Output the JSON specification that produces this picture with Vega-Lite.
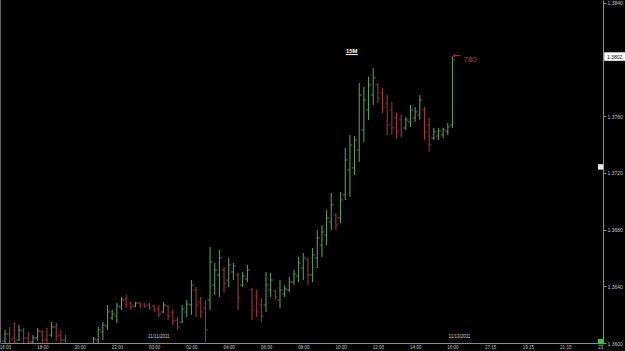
{
  "$schema": "https://vega.github.io/schema/vega-lite/v6.json",
  "width": 603,
  "height": 343,
  "autosize": {"type": "none"},
  "padding": {"left": 0, "top": 0, "right": 22, "bottom": 8},
  "background": "#000000",
  "config": {
    "view": {"stroke": null},
    "font": "Liberation Sans",
    "axis": {"grid": false, "labelFont": "Liberation Sans", "labelColor": "#c8c8c8", "domainColor": "#8c8c8c", "tickColor": "#8c8c8c", "labelOverlap": false, "labelFlush": false, "labelBound": false}
  },
  "data": {"values": [
    {"i":0,"o":1.36014,"h":1.36092,"l":1.35979,"c":1.36063},
    {"i":1,"o":1.36063,"h":1.36113,"l":1.35979,"c":1.36021},
    {"i":2,"o":1.36035,"h":1.36148,"l":1.35979,"c":1.36007},
    {"i":3,"o":1.36021,"h":1.36127,"l":1.36014,"c":1.36092},
    {"i":4,"o":1.36085,"h":1.36106,"l":1.35993,"c":1.36035},
    {"i":5,"o":1.36035,"h":1.36078,"l":1.35986,"c":1.36007},
    {"i":6,"o":1.36007,"h":1.36056,"l":1.35986,"c":1.36035},
    {"i":7,"o":1.36035,"h":1.36106,"l":1.36014,"c":1.36085},
    {"i":8,"o":1.36078,"h":1.36092,"l":1.35979,"c":1.36021},
    {"i":9,"o":1.36021,"h":1.36106,"l":1.35972,"c":1.35993},
    {"i":10,"o":1.36056,"h":1.36148,"l":1.36042,"c":1.36113},
    {"i":11,"o":1.36113,"h":1.36141,"l":1.36014,"c":1.36049},
    {"i":12,"o":1.36056,"h":1.36092,"l":1.36000,"c":1.36021},
    {"i":13,"o":1.36021,"h":1.36056,"l":1.35979,"c":1.35993},
    {"i":14,"o":1.35986,"h":1.35993,"l":1.35937,"c":1.35951},
    {"i":15,"o":1.35944,"h":1.35979,"l":1.35915,"c":1.35965},
    {"i":16,"o":1.35965,"h":1.35986,"l":1.35908,"c":1.35929},
    {"i":17,"o":1.35929,"h":1.35972,"l":1.35901,"c":1.35958},
    {"i":18,"o":1.35958,"h":1.35993,"l":1.35937,"c":1.35979},
    {"i":19,"o":1.35979,"h":1.36042,"l":1.35965,"c":1.36028},
    {"i":20,"o":1.36021,"h":1.36113,"l":1.35993,"c":1.36092},
    {"i":21,"o":1.36078,"h":1.36148,"l":1.36021,"c":1.36127},
    {"i":22,"o":1.36120,"h":1.36268,"l":1.36092,"c":1.36219},
    {"i":23,"o":1.36176,"h":1.36233,"l":1.36162,"c":1.36205},
    {"i":24,"o":1.36190,"h":1.36282,"l":1.36141,"c":1.36261},
    {"i":25,"o":1.36254,"h":1.36325,"l":1.36233,"c":1.36303},
    {"i":26,"o":1.36310,"h":1.36339,"l":1.36247,"c":1.36268},
    {"i":27,"o":1.36282,"h":1.36289,"l":1.36233,"c":1.36254},
    {"i":28,"o":1.36261,"h":1.36289,"l":1.36254,"c":1.36282},
    {"i":29,"o":1.36282,"h":1.36289,"l":1.36247,"c":1.36261},
    {"i":30,"o":1.36275,"h":1.36282,"l":1.36247,"c":1.36261},
    {"i":31,"o":1.36268,"h":1.36282,"l":1.36233,"c":1.36247},
    {"i":32,"o":1.36261,"h":1.36268,"l":1.36219,"c":1.36233},
    {"i":33,"o":1.36247,"h":1.36268,"l":1.36183,"c":1.36205},
    {"i":34,"o":1.36219,"h":1.36289,"l":1.36212,"c":1.36268},
    {"i":35,"o":1.36261,"h":1.36268,"l":1.36162,"c":1.36190},
    {"i":36,"o":1.36212,"h":1.36233,"l":1.36127,"c":1.36155},
    {"i":37,"o":1.36162,"h":1.36183,"l":1.36092,"c":1.36113},
    {"i":38,"o":1.36148,"h":1.36268,"l":1.36141,"c":1.36240},
    {"i":39,"o":1.36219,"h":1.36303,"l":1.36183,"c":1.36275},
    {"i":40,"o":1.36268,"h":1.36444,"l":1.36198,"c":1.36409},
    {"i":41,"o":1.36374,"h":1.36395,"l":1.36183,"c":1.36268},
    {"i":42,"o":1.36289,"h":1.36325,"l":1.36176,"c":1.36219},
    {"i":43,"o":1.36247,"h":1.36303,"l":1.36007,"c":1.36092},
    {"i":44,"o":1.36303,"h":1.36677,"l":1.36233,"c":1.36571},
    {"i":45,"o":1.36409,"h":1.36564,"l":1.36339,"c":1.36515},
    {"i":46,"o":1.36480,"h":1.36656,"l":1.36325,"c":1.36600},
    {"i":47,"o":1.36515,"h":1.36536,"l":1.36353,"c":1.36423},
    {"i":48,"o":1.36444,"h":1.36600,"l":1.36395,"c":1.36550},
    {"i":49,"o":1.36501,"h":1.36564,"l":1.36444,"c":1.36543},
    {"i":50,"o":1.36480,"h":1.36494,"l":1.36233,"c":1.36317},
    {"i":51,"o":1.36409,"h":1.36501,"l":1.36395,"c":1.36473},
    {"i":52,"o":1.36452,"h":1.36550,"l":1.36430,"c":1.36515},
    {"i":53,"o":1.36374,"h":1.36388,"l":1.36162,"c":1.36233},
    {"i":54,"o":1.36332,"h":1.36374,"l":1.36183,"c":1.36219},
    {"i":55,"o":1.36268,"h":1.36317,"l":1.36148,"c":1.36190},
    {"i":56,"o":1.36268,"h":1.36501,"l":1.36219,"c":1.36409},
    {"i":57,"o":1.36374,"h":1.36494,"l":1.36325,"c":1.36444},
    {"i":58,"o":1.36367,"h":1.36374,"l":1.36303,"c":1.36325},
    {"i":59,"o":1.36303,"h":1.36444,"l":1.36247,"c":1.36374},
    {"i":60,"o":1.36346,"h":1.36409,"l":1.36325,"c":1.36381},
    {"i":61,"o":1.36374,"h":1.36466,"l":1.36360,"c":1.36430},
    {"i":62,"o":1.36430,"h":1.36515,"l":1.36409,"c":1.36487},
    {"i":63,"o":1.36473,"h":1.36607,"l":1.36430,"c":1.36564},
    {"i":64,"o":1.36529,"h":1.36635,"l":1.36444,"c":1.36600},
    {"i":65,"o":1.36586,"h":1.36600,"l":1.36409,"c":1.36480},
    {"i":66,"o":1.36480,"h":1.36670,"l":1.36430,"c":1.36621},
    {"i":67,"o":1.36600,"h":1.36797,"l":1.36529,"c":1.36741},
    {"i":68,"o":1.36691,"h":1.36832,"l":1.36607,"c":1.36783},
    {"i":69,"o":1.36762,"h":1.36938,"l":1.36691,"c":1.36882},
    {"i":70,"o":1.36854,"h":1.37058,"l":1.36797,"c":1.36974},
    {"i":71,"o":1.36903,"h":1.36917,"l":1.36797,"c":1.36832},
    {"i":72,"o":1.36882,"h":1.37065,"l":1.36847,"c":1.37009},
    {"i":73,"o":1.37044,"h":1.37376,"l":1.37009,"c":1.37291},
    {"i":74,"o":1.37220,"h":1.37467,"l":1.37030,"c":1.37397},
    {"i":75,"o":1.37235,"h":1.37460,"l":1.37185,"c":1.37432},
    {"i":76,"o":1.37362,"h":1.37834,"l":1.37277,"c":1.37749},
    {"i":77,"o":1.37503,"h":1.37806,"l":1.37418,"c":1.37714},
    {"i":78,"o":1.37644,"h":1.37877,"l":1.37573,"c":1.37820},
    {"i":79,"o":1.37749,"h":1.37940,"l":1.37679,"c":1.37870},
    {"i":80,"o":1.37820,"h":1.37834,"l":1.37693,"c":1.37728},
    {"i":81,"o":1.37763,"h":1.37799,"l":1.37623,"c":1.37658},
    {"i":82,"o":1.37693,"h":1.37749,"l":1.37467,"c":1.37538},
    {"i":83,"o":1.37644,"h":1.37700,"l":1.37467,"c":1.37517},
    {"i":84,"o":1.37587,"h":1.37623,"l":1.37446,"c":1.37489},
    {"i":85,"o":1.37573,"h":1.37609,"l":1.37453,"c":1.37482},
    {"i":86,"o":1.37517,"h":1.37594,"l":1.37503,"c":1.37573},
    {"i":87,"o":1.37559,"h":1.37679,"l":1.37524,"c":1.37644},
    {"i":88,"o":1.37587,"h":1.37665,"l":1.37559,"c":1.37630},
    {"i":89,"o":1.37609,"h":1.37749,"l":1.37573,"c":1.37714},
    {"i":90,"o":1.37644,"h":1.37665,"l":1.37432,"c":1.37489},
    {"i":91,"o":1.37538,"h":1.37587,"l":1.37348,"c":1.37397},
    {"i":92,"o":1.37446,"h":1.37517,"l":1.37432,"c":1.37489},
    {"i":93,"o":1.37460,"h":1.37517,"l":1.37432,"c":1.37496},
    {"i":94,"o":1.37467,"h":1.37517,"l":1.37446,"c":1.37503},
    {"i":95,"o":1.37489,"h":1.37552,"l":1.37467,"c":1.37524},
    {"i":96,"o":1.37538,"h":1.38020,"l":1.37517,"c":1.37997}
  ]},
  "layer": [
    {
      "mark": {"type": "rule", "strokeWidth": 1, "clip": true},
      "encoding": {
        "x": {"field": "i", "type": "quantitative", "scale": {"domain": [-1.07, 128.3], "nice": false, "zero": false},
              "axis": {"orient": "bottom", "title": null, "values": [0,8,16,24,32,40,48,56,64,72,80,88,96,104.1,112.2,120.2,127.7], "tickCount": 40,
                       "labelExpr": "datum.value <= 96 ? ((((16 + datum.value / 4) % 24) < 10 ? '0' : '') + ((16 + datum.value / 4) % 24) + ':00') : (datum.value < 108 ? '17:15' : (datum.value < 116 ? '19:15' : (datum.value < 124 ? '21:15' : '23')))",
                       "labelFontSize": 4.5, "tickSize": 0, "labelPadding": 1.5, "domainWidth": 1, "labelOverlap": false, "labelFlush": false, "labelBound": false}},
        "y": {"field": "l", "type": "quantitative", "scale": {"domain": [1.36, 1.38419], "nice": false, "zero": false},
              "axis": {"orient": "right", "title": null, "values": [1.36, 1.364, 1.368, 1.372, 1.376, 1.384], "tickCount": 20, "format": ".4f",
                       "labelFontSize": 5, "tickSize": 3, "labelPadding": 1, "domainWidth": 1, "labelOverlap": false, "labelFlush": false, "labelBound": false}},
        "y2": {"field": "h"},
        "color": {"condition": {"test": "datum.c >= datum.o", "value": "#5fa85f"}, "value": "#a83c3c"}
      }
    },
    {
      "mark": {"type": "tick", "orient": "horizontal", "size": 2.5, "thickness": 1, "xOffset": -1.3, "clip": true},
      "encoding": {
        "x": {"field": "i", "type": "quantitative", "axis": {"title": null}},
        "y": {"field": "o", "type": "quantitative", "axis": {"title": null}},
        "color": {"condition": {"test": "datum.c >= datum.o", "value": "#5fa85f"}, "value": "#a83c3c"}
      }
    },
    {
      "mark": {"type": "tick", "orient": "horizontal", "size": 2.5, "thickness": 1, "xOffset": 1.3, "clip": true},
      "encoding": {
        "x": {"field": "i", "type": "quantitative", "axis": {"title": null}},
        "y": {"field": "c", "type": "quantitative", "axis": {"title": null}},
        "color": {"condition": {"test": "datum.c >= datum.o", "value": "#5fa85f"}, "value": "#a83c3c"}
      }
    },
    {
      "data": {"values": [{"edge": "left"}]},
      "mark": {"type": "rule", "color": "#6a6a6a", "strokeWidth": 1},
      "encoding": {
        "x": {"datum": -0.95, "type": "quantitative", "axis": {"title": null}},
        "y": {"datum": 1.36, "type": "quantitative", "axis": {"title": null}},
        "y2": {"datum": 1.38419}
      }
    },
    {
      "transform": [{"filter": "datum.i == 96"}],
      "mark": {"type": "point", "shape": "M-1.1,-0.45L1.1,-0.45L1.1,0.45L-1.1,0.45Z", "size": 361, "filled": true, "color": "#ffffff", "opacity": 1, "strokeWidth": 0},
      "encoding": {
        "x": {"datum": 130.8, "type": "quantitative", "axis": {"title": null}},
        "y": {"field": "h", "type": "quantitative", "axis": {"title": null}}
      }
    },
    {
      "transform": [{"filter": "datum.i == 96"}],
      "mark": {"type": "text", "fontSize": 5, "color": "#000000", "align": "center", "baseline": "middle"},
      "encoding": {
        "x": {"datum": 130.8, "type": "quantitative", "axis": {"title": null}},
        "y": {"field": "h", "type": "quantitative", "axis": {"title": null}},
        "text": {"field": "h", "type": "quantitative", "format": ".4f"}
      }
    },
    {
      "transform": [{"filter": "datum.i == 96"}],
      "mark": {"type": "text", "fontSize": 10, "font": "DejaVu Sans", "color": "#c03030", "align": "left", "baseline": "middle", "dx": 0, "dy": -1},
      "encoding": {
        "x": {"field": "i", "type": "quantitative", "axis": {"title": null}},
        "y": {"field": "h", "type": "quantitative", "axis": {"title": null}},
        "text": {"value": "←"}
      }
    },
    {
      "transform": [{"filter": "datum.i == 96"}],
      "mark": {"type": "text", "fontSize": 8, "color": "#c03030", "align": "left", "baseline": "middle", "dx": 11, "dy": 3},
      "encoding": {
        "x": {"field": "i", "type": "quantitative", "axis": {"title": null}},
        "y": {"field": "h", "type": "quantitative", "axis": {"title": null}},
        "text": {"value": "780"}
      }
    },
    {
      "data": {"values": [{"label": "15M"}]},
      "mark": {"type": "text", "fontSize": 6, "fontWeight": "bold", "color": "#ffffff", "align": "center", "baseline": "middle"},
      "encoding": {
        "x": {"datum": 74.4, "type": "quantitative", "axis": {"title": null}},
        "y": {"datum": 1.3806, "type": "quantitative", "axis": {"title": null}},
        "text": {"field": "label"}
      }
    },
    {
      "data": {"values": [{"label": "15M"}]},
      "mark": {"type": "rule", "color": "#ffffff", "strokeWidth": 1},
      "encoding": {
        "x": {"datum": 73.1, "type": "quantitative", "axis": {"title": null}},
        "x2": {"datum": 75.7},
        "y": {"datum": 1.38034, "type": "quantitative", "axis": {"title": null}}
      }
    },
    {
      "data": {"values": [{"i": 33, "label": "11/11/2011"}, {"i": 97.5, "label": "11/13/2011"}]},
      "mark": {"type": "text", "fontSize": 4.5, "color": "#d0d0d0", "align": "center", "baseline": "middle"},
      "encoding": {
        "x": {"field": "i", "type": "quantitative", "axis": {"title": null}},
        "y": {"datum": 1.36045, "type": "quantitative", "axis": {"title": null}},
        "text": {"field": "label"}
      }
    },
    {
      "data": {"values": [{"marker": "scroll", "p": 1.3601, "col": "green"}, {"marker": "cursor", "p": 1.37242, "col": "white"}]},
      "mark": {"type": "point", "shape": "square", "filled": true, "size": 30, "opacity": 1},
      "encoding": {
        "x": {"datum": 127.8, "type": "quantitative", "axis": {"title": null}},
        "y": {"field": "p", "type": "quantitative", "axis": {"title": null}},
        "color": {"field": "col", "type": "nominal", "scale": {"domain": ["green", "white"], "range": ["#3cc43c", "#e8e8e8"]}, "legend": null}
      }
    }
  ]
}
